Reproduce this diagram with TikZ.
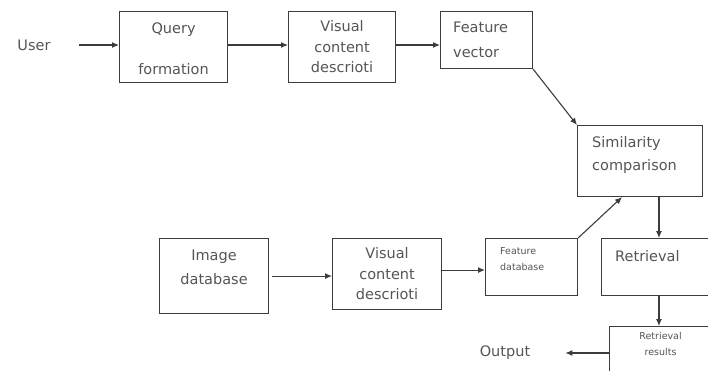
\documentclass[tikz,border=0pt]{standalone}
\usepackage{fontspec}
\setmainfont{DejaVu Sans}
\usetikzlibrary{positioning,calc,arrows.meta}

\definecolor{txtgray}{RGB}{85,85,85}
\definecolor{linegray}{RGB}{60,60,60}

\tikzset{
    box/.style={draw=linegray, line width=1.1pt, rectangle, anchor=north west, inner sep=0pt},
    txt/.style={text=txtgray, font=\fontsize{14.5}{20.5}\selectfont, inner sep=0pt},
    smalltxt/.style={text=txtgray, font=\fontsize{9.5}{16}\selectfont, inner sep=0pt},
    arr/.style={draw=linegray, line width=1.1pt, -{Latex[length=7pt,width=6pt]}}
}

\begin{document}
\begin{tikzpicture}[x=1pt, y=-1pt]
        \useasboundingbox (0,0) rectangle (708,371);
        % top row
        \node[txt] (user) at (34,45) {User};
        \node[box, minimum width=108pt, minimum height=71pt] (qbox) at (119,11) {};
        \node[txt, below=12pt of qbox.north] (qtop) {Query};
        \node[txt, above=8pt of qbox.south] (qbot) {formation};
        \node[box, minimum width=107pt, minimum height=71pt] (vcone) at (288,11) {};
        \node[txt, align=center] (vconet) at (vcone.center) {Visual\\content\\descrioti};
        \node[box, minimum width=92pt, minimum height=57pt] (fv) at (440,11) {};
        \node[txt, align=left, right=13pt of fv.west] (fvt) {Feature\\[5pt]vector};
        % right column
        \node[box, minimum width=125pt, minimum height=71pt] (sim) at (577,125) {};
        \node[txt, align=left, below right=11pt and 15pt of sim.north west] (simt) {Similarity\\[3pt]comparison};
        \node[box, minimum width=114pt, minimum height=57pt] (rtv) at (601,238) {};
        \node[txt, below right=12pt and 14pt of rtv.north west] (rtvt) {Retrieval};
        \node[box, minimum width=102pt, minimum height=60pt] (res) at (609,326) {};
        \node[smalltxt, align=center, below=6pt of res.north] (rest) {Retrieval\\results};
        \node[txt] (out) at (505,353) {Output};
        % bottom row
        \node[box, minimum width=109pt, minimum height=75pt] (idb) at (159,238) {};
        \node[txt, align=center, below=12pt of idb.north] (idbt) {Image\\[3pt]database};
        \node[box, minimum width=109pt, minimum height=71pt] (vctwo) at (332,238) {};
        \node[txt, align=center] (vctwot) at (vctwo.center) {Visual\\content\\descrioti};
        \node[box, minimum width=92pt, minimum height=57pt] (fdb) at (485,238) {};
        \node[smalltxt, align=left, below right=9pt and 15pt of fdb.north west] (fdbt) {Feature\\database};

        \draw[arr] ([xshift=28pt]user.east) -- (qbox.west |- user.east);
        \draw[arr] (qbox.east |- user.east) -- (vcone.west |- user.east);
        \draw[arr] (vcone.east |- user.east) -- (fv.west |- user.east);
        \draw[arr] (fv.south east) -- (sim.north west);
        \draw[arr] ($(sim.south west)!0.65!(sim.south east)$) coordinate (simdown) -- (simdown |- rtv.north);
        \draw[arr] (simdown |- rtv.south) -- (simdown |- res.north);
        \draw[arr] (res.west |- out.east) -- ([xshift=35pt]out.east);
        \draw[arr] ([xshift=3pt]idb.east) -- (idb.east -| vctwo.west);
        \draw[arr] ([yshift=4pt]vctwo.east) -- ([yshift=4pt]vctwo.east -| fdb.west);
        \draw[arr] (fdb.north east) -- ([xshift=45pt]sim.south west);
\end{tikzpicture}
\end{document}
